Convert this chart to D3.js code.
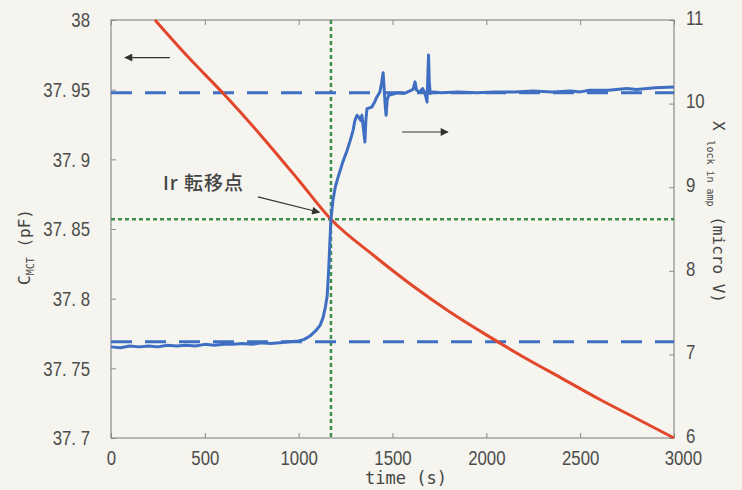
<!DOCTYPE html>
<html>
<head>
<meta charset="utf-8">
<script src="https://cdn.jsdelivr.net/npm/d3@7"></script>
<style>
  body { margin: 0; background: #f5f4ee; }
  svg { display: block; }
  .tick text { font-family: "Liberation Sans", Arial, sans-serif; font-size: 21px; fill: #4d4d4d; }
  .tick line { stroke: #8a8a8a; }
</style>
</head>
<body>
<svg id="chart" width="742" height="490"></svg>
<script>
// time axis (s)
const timeTicks = [0, 500, 1000, 1500, 2000, 2500, 3000];
// left axis C_MCT (pF)
const capTicks = [37.7, 37.75, 37.8, 37.85, 37.9, 37.95, 38];
const capLabels = ["37. 7", "37. 75", "37. 8", "37. 85", "37. 9", "37. 95", "38"];
// right axis X lock in amp (micro V)
const lockTicks = [6, 7, 8, 9, 10, 11];

// red curve, capacitance vs time
const capTime = [234, 400, 600, 800, 1000, 1172, 1400, 1600, 1800, 2000, 2200, 2400, 2600, 2800, 3000];
const capValue = [38.0, 37.975, 37.947, 37.917, 37.885, 37.857, 37.831, 37.810, 37.791, 37.774, 37.758, 37.743, 37.728, 37.714, 37.700];

// blue curve, lock-in signal vs time
const lockTime = [0, 50, 100, 150, 200, 250, 300, 350, 400, 450, 500, 550, 600, 650, 700, 750, 800, 850, 900, 950,
  1000, 1030, 1060, 1090, 1115, 1130, 1142, 1152, 1160, 1167, 1172, 1183, 1195, 1210, 1235, 1258, 1275, 1290, 1300,
  1311, 1320, 1330, 1337, 1345, 1353, 1358, 1364, 1380, 1390, 1405, 1417, 1433, 1442, 1450, 1456, 1462, 1466, 1472,
  1480, 1500, 1524, 1560, 1590, 1610, 1620, 1628, 1646, 1660, 1670, 1678, 1684, 1688, 1692, 1696, 1702, 1716, 1760,
  1850, 1950, 2050, 2150, 2250, 2350, 2450, 2500, 2550, 2650, 2750, 2800, 2900, 3000];
const lockValue = [7.09, 7.08, 7.10, 7.09, 7.10, 7.09, 7.11, 7.10, 7.11, 7.10, 7.12, 7.11, 7.12, 7.12, 7.13, 7.12, 7.14, 7.13, 7.14, 7.15,
  7.16, 7.18, 7.22, 7.28, 7.35, 7.44, 7.56, 7.70, 8.02, 8.38, 8.62, 8.85, 9.00, 9.12, 9.30, 9.44, 9.56, 9.68, 9.80,
  9.86, 9.84, 9.80, 9.86, 9.70, 9.54, 9.80, 9.94, 9.95, 9.96, 10.02, 10.08, 10.14, 10.25, 10.37, 10.16, 9.95, 9.86, 10.05,
  10.10, 10.11, 10.13, 10.12, 10.15, 10.17, 10.26, 10.16, 10.14, 10.18, 10.14, 10.08, 10.02, 10.30, 10.58, 10.25, 10.12, 10.14, 10.13,
  10.14, 10.13, 10.14, 10.14, 10.15, 10.14, 10.15, 10.14, 10.16, 10.16, 10.18, 10.17, 10.19, 10.20];

// reference lines
const lockLevels = [10.13, 7.15];     // blue dashed, right axis
const transTime = 1172;               // green dotted vertical
const transCap = 37.857;              // green dotted horizontal

const svg = d3.select("#chart");
const mLeft = 111, mRight = 674, mTop = 20, mBottom = 438;
const squeeze = 0.8; // tick font in the scan is narrow

const x = d3.scaleLinear().domain([0, 3000]).range([mLeft, mRight]);
const yL = d3.scaleLinear().domain([37.7, 38]).range([mBottom, mTop]);
const yR = d3.scaleLinear().domain([6, 11]).range([mBottom, mTop]);

// arrow head
svg.append("defs").append("marker")
  .attr("id", "head")
  .attr("viewBox", "0 0 10 10")
  .attr("refX", 9).attr("refY", 5)
  .attr("markerWidth", 12).attr("markerHeight", 8)
  .attr("markerUnits", "userSpaceOnUse")
  .attr("orient", "auto")
  .append("path").attr("d", "M0,0 L10,5 L0,10 Z").attr("fill", "#333");

// axes, ticks inside
const gx = svg.append("g").attr("transform", `translate(0,${mBottom})`)
  .call(d3.axisBottom(x).tickValues(timeTicks).tickSize(-5).tickPadding(12).tickFormat(d3.format("d")));
gx.selectAll(".tick text").attr("transform", `scale(${squeeze},1)`)
  .filter(d => d == 3000).attr("dx", 11);
svg.append("g").attr("transform", `translate(0,${mTop})`)
  .call(d3.axisTop(x).tickValues(timeTicks).tickSize(-5).tickFormat(""));
svg.append("g").attr("transform", `translate(${mLeft},0)`)
  .call(d3.axisLeft(yL).tickValues(capTicks).tickSize(-5).tickPadding(20)
    .tickFormat((d, i) => capLabels[i]))
  .selectAll(".tick text").attr("transform", `scale(${squeeze},1)`).attr("x", -21 / squeeze);
svg.append("g").attr("transform", `translate(${mRight},0)`)
  .call(d3.axisRight(yR).tickValues(lockTicks).tickSize(-5).tickPadding(12).tickFormat(d3.format("d")))
  .selectAll(".tick text").attr("transform", `scale(${squeeze},1)`).attr("x", 12 / squeeze).attr("dy", "0.2em");
svg.selectAll(".domain").remove();

svg.append("rect")
  .attr("x", mLeft).attr("y", mTop)
  .attr("width", mRight - mLeft).attr("height", mBottom - mTop)
  .attr("fill", "none").attr("stroke", "#8a8a8a").attr("stroke-width", 1.2);

// green dotted guides
svg.append("line")
  .attr("x1", x(transTime)).attr("x2", x(transTime))
  .attr("y1", mTop).attr("y2", mBottom)
  .attr("stroke", "#3a8f4c").attr("stroke-width", 2.5).attr("stroke-dasharray", "4,3");
svg.append("line")
  .attr("x1", mLeft).attr("x2", mRight)
  .attr("y1", yL(transCap)).attr("y2", yL(transCap))
  .attr("stroke", "#3a8f4c").attr("stroke-width", 2.5).attr("stroke-dasharray", "4,3");

// blue dashed levels
svg.selectAll(".level").data(lockLevels).enter().append("line")
  .attr("class", "level")
  .attr("x1", mLeft).attr("x2", mRight)
  .attr("y1", d => yR(d)).attr("y2", d => yR(d))
  .attr("stroke", "#3f6fc2").attr("stroke-width", 3).attr("stroke-dasharray", "21,13");

// red curve
const capData = capTime.map((t, i) => [t, capValue[i]]);
svg.append("path")
  .datum(capData)
  .attr("fill", "none").attr("stroke", "#e2472c").attr("stroke-width", 3)
  .attr("d", d3.line().x(d => x(d[0])).y(d => yL(d[1])).curve(d3.curveMonotoneX));

// blue curve
const lockData = lockTime.map((t, i) => [t, lockValue[i]]);
svg.append("path")
  .datum(lockData)
  .attr("fill", "none").attr("stroke", "#3f6fc2").attr("stroke-width", 3)
  .attr("stroke-linejoin", "round")
  .attr("d", d3.line().x(d => x(d[0])).y(d => yR(d[1])));

// arrows
svg.append("line")
  .attr("x1", x(314)).attr("x2", x(75))
  .attr("y1", yL(37.973)).attr("y2", yL(37.973))
  .attr("stroke", "#333").attr("stroke-width", 1.2).attr("marker-end", "url(#head)");
svg.append("line")
  .attr("x1", x(1551)).attr("x2", x(1795))
  .attr("y1", yR(9.66)).attr("y2", yR(9.66))
  .attr("stroke", "#333").attr("stroke-width", 1.2).attr("marker-end", "url(#head)");
svg.append("line")
  .attr("x1", x(783)).attr("x2", x(1110))
  .attr("y1", yL(37.873)).attr("y2", yL(37.862))
  .attr("stroke", "#333").attr("stroke-width", 1.2).attr("marker-end", "url(#head)");

svg.append("text")
  .attr("x", x(277)).attr("y", yL(37.878))
  .attr("font-family", "'Noto Sans CJK JP', sans-serif").attr("font-size", 19)
  .attr("font-weight", 500).attr("fill", "#444").attr("letter-spacing", 1)
  .text("Ir 転移点");

// axis titles
svg.append("text")
  .attr("x", 406).attr("y", 484)
  .attr("text-anchor", "middle")
  .attr("font-family", "'DejaVu Sans Mono', monospace").attr("font-size", 17).attr("fill", "#444")
  .text("time (s)");

const lt = svg.append("text")
  .attr("transform", "translate(30,247) rotate(-90)")
  .attr("text-anchor", "middle")
  .attr("font-family", "'DejaVu Sans Mono', monospace").attr("font-size", 16).attr("fill", "#444");
lt.append("tspan").text("C");
lt.append("tspan").attr("font-size", 10).attr("dy", 4).text("MCT");
lt.append("tspan").attr("dy", -4).text(" (pF)");

const rt = svg.append("text")
  .attr("transform", "translate(713,212) rotate(90)")
  .attr("text-anchor", "middle")
  .attr("font-family", "'DejaVu Sans Mono', monospace").attr("font-size", 16).attr("fill", "#444");
rt.append("tspan").text("X ");
rt.append("tspan").attr("font-size", 10).attr("dy", 6).text("lock in amp");
rt.append("tspan").attr("dy", -6).text(" (micro V)");
</script>
</body>
</html>
